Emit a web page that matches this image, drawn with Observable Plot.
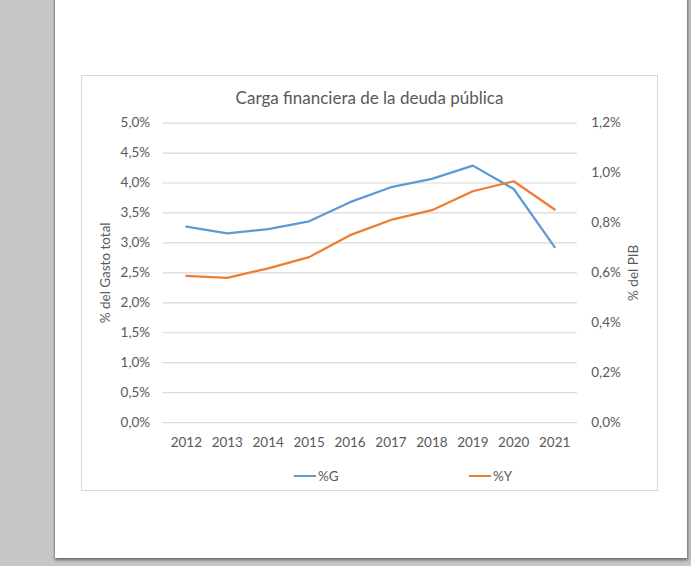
<!DOCTYPE html>
<html><head><meta charset="utf-8">
<script src="https://cdn.jsdelivr.net/npm/d3@7"></script>
<script src="https://cdn.jsdelivr.net/npm/@observablehq/plot@0.6"></script>
<style>
html,body{margin:0;padding:0;}
body{width:691px;height:566px;background:#c6c6c6;position:relative;overflow:hidden;font-family:Lato,"Open Sans",sans-serif;}
#page{position:absolute;left:54px;top:-10px;width:632px;height:568px;background:#fff;border-left:1px solid #8f8f8f;box-shadow:1px 2px 3px rgba(0,0,0,0.5);}
#box{position:absolute;left:81px;top:75px;width:575px;height:414px;border:1px solid #d9d9d9;background:#fff;}
#chart{position:absolute;left:0;top:0;}
#title{position:absolute;left:0;right:0;top:10px;text-align:center;font-size:17px;color:#595959;line-height:24px;}
.leg{position:absolute;top:393px;height:14px;display:flex;align-items:center;font-size:13.5px;color:#595959;}
.sw{display:inline-block;width:22px;height:2.5px;margin-right:2px;}
</style>
</head><body>
<div id="page"></div>
<div id="box">
  <div id="chart"></div>
  <div id="title">Carga financiera de la deuda pública</div>
  <div class="leg" id="legG" style="left:212px"><span class="sw" style="background:#5B9BD5"></span><span>%G</span></div>
  <div class="leg" id="legY" style="left:387px"><span class="sw" style="background:#ED7D31"></span><span>%Y</span></div>
</div>
<script>
const years = [2012, 2013, 2014, 2015, 2016, 2017, 2018, 2019, 2020, 2021];
const pctG = [3.27, 3.16, 3.23, 3.36, 3.68, 3.93, 4.07, 4.29, 3.90, 2.93];
const pctY = [0.588, 0.580, 0.618, 0.663, 0.751, 0.812, 0.851, 0.927, 0.967, 0.854];
const leftTicks = [0, 0.5, 1, 1.5, 2, 2.5, 3, 3.5, 4, 4.5, 5];
const rightTicks = [0, 0.2, 0.4, 0.6, 0.8, 1.0, 1.2];
const leftMax = 5, rightMax = 1.2;
const k = leftMax / rightMax;

const fmt1 = d => d.toFixed(1).replace(".", ",") + "%";
const rowsG = years.map((year, i) => ({year, v: pctG[i]}));
const rowsY = years.map((year, i) => ({year, v: pctY[i]}));

const chart = Plot.plot({
  width: 576, height: 415,
  marginLeft: 80.7, marginRight: 80.3, marginTop: 46.7, marginBottom: 68.3,
  x: {type: "point", domain: years, padding: 0.5},
  y: {domain: [0, leftMax]},
  style: {fontFamily: "Lato, 'Open Sans', sans-serif", fontSize: "13.5px", color: "#595959", background: "transparent", overflow: "visible"},
  marks: [
    Plot.gridY({ticks: leftTicks, stroke: "#d9d9d9", strokeOpacity: 1, strokeWidth: 1.2}),
    Plot.axisY({ticks: leftTicks, anchor: "left", tickSize: 0, tickPadding: 13, tickFormat: fmt1, label: null}),
    Plot.axisY({ticks: rightTicks.map(t => t * k), anchor: "right", tickSize: 0, tickPadding: 14, tickFormat: d => fmt1(d / k), label: null}),
    Plot.axisX({ticks: years, tickSize: 0, tickPadding: 15, tickFormat: d => String(d), label: null}),
    Plot.line(rowsG, {x: "year", y: "v", stroke: "#5B9BD5", strokeWidth: 2.25, strokeLinejoin: "round", strokeLinecap: "round"}),
    Plot.line(rowsY, {x: "year", y: d => d.v * k, stroke: "#ED7D31", strokeWidth: 2.25, strokeLinejoin: "round", strokeLinecap: "round"}),
    Plot.text(["% del Gasto total"], {frameAnchor: "left", textAnchor: "middle", rotate: -90, dx: -57, fill: "#595959", fontSize: 13.5}),
    Plot.text(["% del PIB"], {frameAnchor: "right", textAnchor: "middle", rotate: -90, dx: 56, fill: "#595959", fontSize: 13.5})
  ]
});
document.getElementById("chart").appendChild(chart);
</script>
</body></html>
